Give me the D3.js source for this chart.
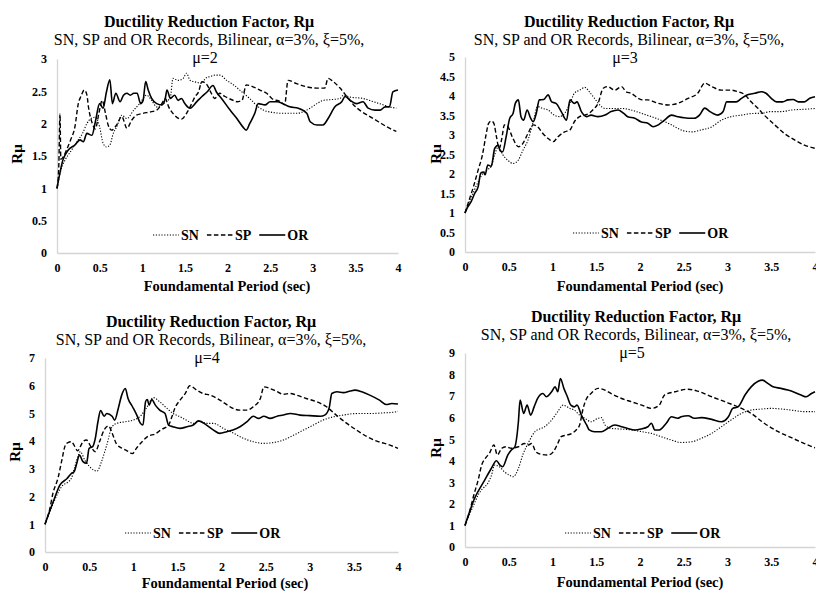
<!DOCTYPE html>
<html>
<head>
<meta charset="utf-8">
<script src="https://cdn.jsdelivr.net/npm/d3@7"></script>
<style>
  body { margin: 0; background: #fff; }
  svg text { font-family: "Liberation Serif", "Times New Roman", serif; fill: #000; }
</style>
</head>
<body>
<svg id="chart" width="816" height="591"></svg>
<script>
// ---- data: [period (sec), R_mu] ----
var mu2_SN = [[0,1],[0.05,1.3],[0.1,1.45],[0.15,1.55],[0.2,1.65],[0.25,1.75],[0.3,1.85],[0.35,2.0],[0.4,2.08],[0.45,2.1],[0.5,1.95],[0.54,1.7],[0.58,1.64],[0.62,1.67],[0.66,1.85],[0.7,1.95],[0.76,2.13],[0.82,2.08],[0.9,2.21],[0.97,2.31],[1.05,2.44],[1.11,2.36],[1.17,2.26],[1.25,2.31],[1.33,2.41],[1.36,2.7],[1.42,2.67],[1.48,2.7],[1.52,2.78],[1.56,2.67],[1.64,2.64],[1.7,2.62],[1.74,2.7],[1.8,2.73],[1.85,2.75],[1.91,2.75],[1.99,2.67],[2.07,2.6],[2.17,2.49],[2.26,2.39],[2.36,2.26],[2.42,2.21],[2.5,2.18],[2.66,2.16],[2.81,2.16],[2.93,2.21],[3.05,2.31],[3.12,2.36],[3.2,2.37],[3.32,2.39],[3.36,2.44],[3.44,2.41],[3.59,2.39],[3.71,2.34],[3.83,2.29],[3.9,2.26],[3.98,2.24]];
var mu2_SP = [[0,1],[0.02,1.3],[0.035,2.15],[0.045,1.45],[0.08,1.5],[0.12,1.62],[0.16,1.75],[0.21,1.95],[0.25,2.31],[0.28,2.42],[0.32,2.52],[0.35,2.45],[0.37,2.25],[0.41,2.02],[0.45,1.92],[0.49,2.15],[0.53,2.36],[0.57,2.15],[0.6,1.98],[0.64,1.9],[0.7,1.98],[0.76,2.11],[0.82,1.93],[0.88,2.06],[0.93,2.13],[1.01,2.16],[1.09,2.18],[1.17,2.21],[1.23,2.31],[1.27,2.39],[1.31,2.26],[1.38,2.13],[1.46,2.07],[1.52,2.16],[1.58,2.31],[1.62,2.42],[1.66,2.49],[1.7,2.65],[1.76,2.6],[1.81,2.47],[1.85,2.39],[1.91,2.47],[1.97,2.42],[2.05,2.37],[2.11,2.34],[2.17,2.36],[2.22,2.6],[2.3,2.57],[2.38,2.52],[2.46,2.47],[2.52,2.39],[2.62,2.34],[2.67,2.29],[2.71,2.67],[2.81,2.62],[2.93,2.57],[3.05,2.55],[3.14,2.55],[3.18,2.7],[3.24,2.65],[3.32,2.55],[3.4,2.42],[3.48,2.29],[3.57,2.19],[3.67,2.11],[3.77,2.03],[3.87,1.95],[3.98,1.88]];
var mu2_OR = [[0,1],[0.07,1.44],[0.13,1.59],[0.21,1.67],[0.27,1.75],[0.31,1.72],[0.35,1.85],[0.41,1.82],[0.45,2.03],[0.5,2.31],[0.54,2.24],[0.58,2.49],[0.62,2.68],[0.65,2.31],[0.69,2.47],[0.74,2.34],[0.78,2.44],[0.82,2.47],[0.86,2.44],[0.9,2.47],[0.94,2.47],[0.98,2.31],[1.01,2.36],[1.04,2.65],[1.07,2.52],[1.11,2.39],[1.17,2.31],[1.23,2.29],[1.27,2.39],[1.29,2.52],[1.33,2.39],[1.38,2.44],[1.42,2.36],[1.46,2.39],[1.5,2.31],[1.56,2.24],[1.64,2.34],[1.7,2.42],[1.76,2.49],[1.83,2.59],[1.87,2.49],[1.93,2.39],[2.03,2.21],[2.11,2.08],[2.18,1.95],[2.22,1.9],[2.26,2.0],[2.32,2.16],[2.36,2.31],[2.44,2.29],[2.5,2.34],[2.58,2.34],[2.65,2.31],[2.73,2.26],[2.83,2.24],[2.93,2.16],[2.97,2.03],[3.05,1.98],[3.12,1.98],[3.18,2.08],[3.26,2.26],[3.34,2.34],[3.38,2.42],[3.44,2.36],[3.51,2.31],[3.59,2.34],[3.65,2.24],[3.73,2.21],[3.79,2.21],[3.85,2.26],[3.9,2.26],[3.94,2.49],[4.0,2.52]];

var mu3_SN = [[0,1],[0.05,1.3],[0.1,1.55],[0.15,1.8],[0.2,2.0],[0.25,2.1],[0.3,2.2],[0.34,2.5],[0.38,2.69],[0.43,2.5],[0.49,2.35],[0.55,2.27],[0.61,2.36],[0.66,2.6],[0.72,2.87],[0.78,3.34],[0.83,3.73],[0.89,3.68],[0.95,3.64],[1.02,3.51],[1.08,3.47],[1.14,3.56],[1.2,3.81],[1.25,4.07],[1.31,4.15],[1.37,4.22],[1.42,4.11],[1.48,3.94],[1.54,3.77],[1.6,3.68],[1.67,3.68],[1.79,3.68],[1.9,3.64],[2.01,3.56],[2.13,3.47],[2.24,3.38],[2.36,3.26],[2.47,3.13],[2.59,3.08],[2.7,3.13],[2.82,3.21],[2.93,3.38],[3.04,3.47],[3.16,3.51],[3.27,3.55],[3.39,3.56],[3.5,3.6],[3.62,3.6],[3.73,3.64],[3.88,3.66],[4.0,3.68]];
var mu3_SP = [[0,1],[0.05,1.35],[0.1,1.7],[0.15,2.1],[0.2,2.5],[0.24,3.0],[0.27,3.3],[0.3,3.36],[0.33,3.3],[0.36,2.95],[0.39,2.65],[0.42,2.9],[0.45,3.26],[0.49,3.21],[0.55,2.9],[0.61,2.7],[0.66,2.78],[0.72,3.04],[0.78,3.26],[0.83,3.21],[0.89,3.04],[0.95,2.91],[1.01,2.83],[1.06,2.95],[1.14,3.08],[1.2,3.13],[1.25,3.34],[1.31,3.47],[1.37,3.51],[1.42,3.56],[1.46,3.64],[1.52,3.81],[1.58,4.2],[1.63,4.24],[1.71,4.15],[1.79,4.24],[1.84,4.11],[1.9,4.07],[1.98,3.94],[2.03,3.9],[2.09,3.9],[2.21,3.81],[2.32,3.77],[2.43,3.81],[2.55,3.94],[2.66,4.07],[2.74,4.33],[2.82,4.24],[2.93,4.15],[3.04,4.15],[3.12,4.11],[3.2,4.03],[3.27,3.85],[3.35,3.68],[3.42,3.51],[3.54,3.26],[3.65,3.04],[3.77,2.87],[3.88,2.74],[4.0,2.66]];
var mu3_OR = [[0,1],[0.03,1.15],[0.07,1.29],[0.11,1.5],[0.15,1.67],[0.18,2.02],[0.21,2.05],[0.23,1.98],[0.26,2.23],[0.3,2.2],[0.34,2.66],[0.38,2.74],[0.4,2.6],[0.43,2.57],[0.47,2.95],[0.51,3.42],[0.55,3.56],[0.575,3.81],[0.61,3.9],[0.64,3.47],[0.67,3.38],[0.71,3.64],[0.75,3.43],[0.78,3.34],[0.815,3.56],[0.85,3.9],[0.9,3.91],[0.95,4.03],[0.99,3.85],[1.04,3.81],[1.1,3.6],[1.16,3.38],[1.2,3.9],[1.25,3.81],[1.28,3.85],[1.33,3.6],[1.39,3.47],[1.44,3.51],[1.52,3.47],[1.6,3.51],[1.67,3.6],[1.75,3.64],[1.81,3.56],[1.86,3.47],[1.94,3.43],[2.01,3.34],[2.09,3.3],[2.15,3.21],[2.21,3.26],[2.28,3.38],[2.36,3.51],[2.43,3.47],[2.55,3.43],[2.62,3.43],[2.68,3.51],[2.74,3.69],[2.8,3.6],[2.83,3.56],[2.89,3.51],[2.95,3.6],[2.99,3.85],[3.04,3.85],[3.1,3.85],[3.16,3.94],[3.23,4.03],[3.31,4.07],[3.39,4.11],[3.44,4.07],[3.5,3.94],[3.56,3.85],[3.63,3.85],[3.69,3.9],[3.75,3.91],[3.81,3.85],[3.88,3.85],[3.94,3.94],[4.0,3.98]];

var mu4_SN = [[0,1],[0.05,1.4],[0.1,1.8],[0.15,2.15],[0.2,2.4],[0.25,2.5],[0.3,2.67],[0.34,3.1],[0.38,3.5],[0.4,3.62],[0.45,3.32],[0.5,3.1],[0.55,2.96],[0.59,2.92],[0.64,3.26],[0.7,3.86],[0.76,4.52],[0.81,4.64],[0.91,4.7],[1.0,4.76],[1.08,4.9],[1.15,5.2],[1.23,5.57],[1.3,5.42],[1.38,5.19],[1.45,5.0],[1.53,4.88],[1.6,4.76],[1.68,4.64],[1.76,4.72],[1.83,4.64],[1.91,4.64],[2.02,4.46],[2.14,4.28],[2.25,4.1],[2.36,3.98],[2.47,3.92],[2.59,3.95],[2.7,4.04],[2.82,4.22],[2.93,4.4],[3.04,4.58],[3.15,4.76],[3.27,4.88],[3.38,4.94],[3.49,4.99],[3.61,5.0],[3.72,5.0],[3.83,5.02],[3.94,5.04],[4.0,5.08]];
var mu4_SP = [[0,1],[0.05,1.5],[0.09,2.12],[0.15,2.7],[0.19,3.3],[0.23,3.85],[0.26,3.95],[0.3,3.98],[0.33,3.85],[0.37,3.65],[0.4,3.8],[0.43,3.98],[0.47,4.04],[0.52,3.8],[0.57,3.62],[0.62,4.0],[0.67,4.4],[0.72,4.55],[0.76,4.3],[0.81,3.9],[0.87,3.75],[0.93,3.65],[0.99,3.55],[1.04,3.76],[1.1,3.98],[1.17,4.18],[1.25,4.26],[1.32,4.42],[1.4,4.58],[1.44,4.9],[1.47,5.18],[1.53,5.48],[1.59,5.72],[1.64,6.0],[1.72,5.84],[1.79,5.72],[1.87,5.66],[1.95,5.54],[2.04,5.36],[2.13,5.18],[2.21,5.12],[2.29,5.12],[2.36,5.24],[2.44,5.54],[2.48,5.96],[2.55,5.9],[2.62,5.8],[2.7,5.69],[2.78,5.72],[2.85,5.66],[2.96,5.54],[3.08,5.42],[3.19,5.24],[3.3,4.94],[3.42,4.64],[3.53,4.4],[3.65,4.16],[3.76,4.0],[3.87,3.9],[4.0,3.74]];
var mu4_OR = [[0,1],[0.05,1.45],[0.094,1.82],[0.17,2.42],[0.25,2.65],[0.3,2.84],[0.33,2.9],[0.36,3.2],[0.39,3.5],[0.43,3.26],[0.47,3.2],[0.5,3.74],[0.54,3.8],[0.57,4.1],[0.6,4.7],[0.63,5.1],[0.67,4.9],[0.7,5.0],[0.76,4.9],[0.79,4.76],[0.83,5.18],[0.87,5.67],[0.91,5.9],[0.94,5.55],[0.99,5.25],[1.04,4.94],[1.08,4.65],[1.11,4.58],[1.14,5.43],[1.16,5.5],[1.18,5.3],[1.21,5.5],[1.25,5.3],[1.3,5.12],[1.36,5.0],[1.4,4.58],[1.45,4.52],[1.53,4.46],[1.61,4.52],[1.68,4.58],[1.74,4.73],[1.83,4.58],[1.91,4.4],[1.98,4.28],[2.06,4.34],[2.13,4.4],[2.21,4.52],[2.29,4.7],[2.36,4.9],[2.42,4.82],[2.48,4.9],[2.55,4.82],[2.63,4.9],[2.7,4.94],[2.78,5.0],[2.89,4.94],[3.0,4.92],[3.12,4.9],[3.17,4.94],[3.22,5.2],[3.25,5.72],[3.31,5.78],[3.38,5.75],[3.46,5.81],[3.51,5.84],[3.59,5.78],[3.68,5.66],[3.79,5.48],[3.87,5.32],[3.93,5.36],[4.0,5.34]];

var mu5_SN = [[0,1],[0.05,1.5],[0.1,1.95],[0.15,2.41],[0.2,2.7],[0.26,2.95],[0.3,3.3],[0.34,3.8],[0.4,3.7],[0.45,3.49],[0.5,3.35],[0.55,3.26],[0.61,3.64],[0.66,4.27],[0.72,4.8],[0.8,5.35],[0.91,5.58],[0.99,5.89],[1.06,6.28],[1.12,6.58],[1.2,6.43],[1.25,6.35],[1.31,6.12],[1.37,5.97],[1.44,5.81],[1.52,5.97],[1.56,6.0],[1.6,5.66],[1.67,5.5],[1.79,5.47],[1.9,5.43],[2.02,5.35],[2.13,5.27],[2.24,5.12],[2.36,4.96],[2.47,4.85],[2.59,4.88],[2.7,5.04],[2.82,5.27],[2.93,5.58],[3.04,5.89],[3.16,6.2],[3.27,6.35],[3.39,6.4],[3.5,6.43],[3.62,6.4],[3.73,6.35],[3.88,6.28],[4.0,6.28]];
var mu5_SP = [[0,1],[0.05,1.6],[0.1,2.4],[0.15,3.1],[0.19,3.8],[0.23,4.1],[0.28,4.35],[0.33,4.73],[0.37,4.27],[0.42,4.58],[0.47,4.65],[0.53,4.58],[0.61,4.65],[0.68,4.8],[0.72,4.73],[0.76,4.8],[0.81,4.42],[0.87,4.3],[0.95,4.27],[1.01,4.42],[1.06,4.8],[1.1,5.12],[1.16,5.19],[1.22,5.27],[1.27,5.43],[1.31,5.66],[1.35,6.43],[1.39,6.89],[1.44,7.12],[1.52,7.36],[1.6,7.28],[1.67,7.12],[1.79,6.89],[1.9,6.74],[2.02,6.58],[2.13,6.43],[2.22,6.58],[2.28,7.05],[2.4,7.2],[2.55,7.32],[2.66,7.23],[2.82,6.97],[2.97,6.74],[3.12,6.5],[3.27,6.2],[3.42,5.74],[3.58,5.35],[3.73,5.07],[3.88,4.8],[4.0,4.6]];
var mu5_OR = [[0,1],[0.11,2.26],[0.225,3.1],[0.3,3.64],[0.36,4.0],[0.4,3.8],[0.43,3.72],[0.49,4.27],[0.53,4.5],[0.57,4.65],[0.61,5.8],[0.63,6.82],[0.67,6.2],[0.71,6.58],[0.75,6.12],[0.79,6.5],[0.83,6.89],[0.89,7.12],[0.93,6.97],[0.99,7.2],[1.03,7.43],[1.06,7.2],[1.09,7.82],[1.13,7.36],[1.17,6.97],[1.21,6.58],[1.25,6.5],[1.28,6.58],[1.33,6.12],[1.39,5.66],[1.42,5.43],[1.48,5.35],[1.56,5.35],[1.63,5.5],[1.71,5.66],[1.79,5.58],[1.86,5.5],[1.94,5.43],[2.01,5.47],[2.09,5.58],[2.13,5.74],[2.17,5.43],[2.22,5.43],[2.3,5.74],[2.36,6.04],[2.43,5.97],[2.47,6.04],[2.55,6.09],[2.62,5.97],[2.7,6.0],[2.82,5.92],[2.93,5.81],[3.01,6.04],[3.06,6.43],[3.12,6.5],[3.2,7.05],[3.27,7.43],[3.35,7.69],[3.4,7.74],[3.46,7.59],[3.52,7.43],[3.61,7.36],[3.69,7.28],[3.77,7.17],[3.84,7.05],[3.9,6.97],[3.96,7.12],[4.0,7.2]];

var xTicks = [0, 0.5, 1, 1.5, 2, 2.5, 3, 3.5, 4];
var seriesNames = ['SN', 'SP', 'OR'];
var muValues = [2, 3, 4, 5];
var yMaxes = [3, 5, 7, 9];
var yTickSteps = [0.5, 0.5, 1, 1];
var panelData = [[mu2_SN, mu2_SP, mu2_OR], [mu3_SN, mu3_SP, mu3_OR], [mu4_SN, mu4_SP, mu4_OR], [mu5_SN, mu5_SP, mu5_OR]];

var titleText = 'Ductility Reduction Factor, R\u03bc';
var subText = 'SN, SP and OR Records, Bilinear, \u03b1=3%, \u03be=5%,';
var xTitle = 'Foundamental Period (sec)';
var yTitle = 'R\u03bc';

// ---- layout (pixel positions per panel) ----
var layout = [
  {x0: 57,  x1: 398, yT: 59,  yB: 253, cx: 209, tY: 23,  xtx: 227, xty: 291, legX: 153, legY: 235, yTx: 17,  yTy: 154},
  {x0: 465, x1: 815, yT: 57,  yB: 252, cx: 629, tY: 23,  xtx: 640, xty: 291, legX: 573, legY: 233, yTx: 436, yTy: 154},
  {x0: 45,  x1: 398, yT: 358, yB: 552, cx: 211, tY: 323, xtx: 225, xty: 588, legX: 125, legY: 533, yTx: 15,  yTy: 452},
  {x0: 465, x1: 815, yT: 353, yB: 547, cx: 636, tY: 318, xtx: 640, xty: 587, legX: 565, legY: 533, yTx: 436, yTy: 448}
];

var styles = {
  SN: {w: 1.1, dash: '1.2,1.6'},
  SP: {w: 1.4, dash: '4.5,2.5'},
  OR: {w: 1.6, dash: null}
};

var svg = d3.select('#chart');

function drawPanel(p, i) {
  var g = svg.append('g').attr('class', 'panel');
  var x = d3.scaleLinear().domain([0, 4]).range([p.x0, p.x1]);
  var y = d3.scaleLinear().domain([0, yMaxes[i]]).range([p.yB, p.yT]);
  var yTicks = d3.range(0, yMaxes[i] + 1e-9, yTickSteps[i]);

  // axes
  var ya = g.append('g').attr('transform', 'translate(' + p.x0 + ',0)')
    .call(d3.axisLeft(y).tickValues(yTicks).tickSize(0).tickPadding(10).tickFormat(d3.format('')));
  var xa = g.append('g').attr('transform', 'translate(0,' + p.yB + ')')
    .call(d3.axisBottom(x).tickValues(xTicks).tickSize(0).tickPadding(10).tickFormat(d3.format('')));
  [ya, xa].forEach(function(a) {
    a.select('.domain').attr('stroke', '#d4d4d4').attr('stroke-width', 1.3);
    a.selectAll('text').attr('font-family', '"Liberation Serif", serif')
      .attr('font-weight', 'bold').attr('font-size', 12).attr('fill', '#000');
  });

  // series
  var line = d3.line().x(function(d) { return x(d[0]) }).y(function(d) { return y(d[1]) })
    .curve(d3.curveMonotoneX);
  panelData[i].forEach(function(series, k) {
    var st = styles[seriesNames[k]];
    g.append('path').datum(series)
      .attr('d', line)
      .attr('fill', 'none')
      .attr('stroke', '#000')
      .attr('stroke-width', st.w)
      .attr('stroke-dasharray', st.dash)
      .attr('stroke-linejoin', 'round');
  });

  // titles (three lines, 18px apart)
  g.append('text').attr('x', p.cx).attr('y', p.tY + 3.5).attr('text-anchor', 'middle')
    .attr('font-weight', 'bold').attr('font-size', 16).text(titleText);
  g.append('text').attr('x', p.cx).attr('y', p.tY + 21.5).attr('text-anchor', 'middle')
    .attr('font-size', 16).text(subText);
  g.append('text').attr('x', p.cx - 4).attr('y', p.tY + 39.5).attr('text-anchor', 'middle')
    .attr('font-size', 16).text('\u03bc=' + muValues[i]);

  g.append('text').attr('x', p.xtx).attr('y', p.xty)
    .attr('text-anchor', 'middle').attr('font-weight', 'bold').attr('font-size', 14.5).text(xTitle);
  g.append('text').attr('transform', 'translate(' + p.yTx + ',' + p.yTy + ') rotate(-90)')
    .attr('text-anchor', 'middle').attr('dy', '0.35em')
    .attr('font-weight', 'bold').attr('font-size', 15).text(yTitle);

  // legend
  var lx = p.legX;
  seriesNames.forEach(function(name) {
    var st = styles[name];
    g.append('line').attr('x1', lx).attr('x2', lx + 26).attr('y1', p.legY).attr('y2', p.legY)
      .attr('stroke', '#000').attr('stroke-width', st.w).attr('stroke-dasharray', st.dash);
    var t = g.append('text').attr('x', lx + 28).attr('y', p.legY).attr('dy', '0.35em')
      .attr('font-weight', 'bold').attr('font-size', 14).text(name);
    lx += 28 + t.node().getComputedTextLength() + 8;
  });
}

layout.forEach(drawPanel);
</script>
</body>
</html>
